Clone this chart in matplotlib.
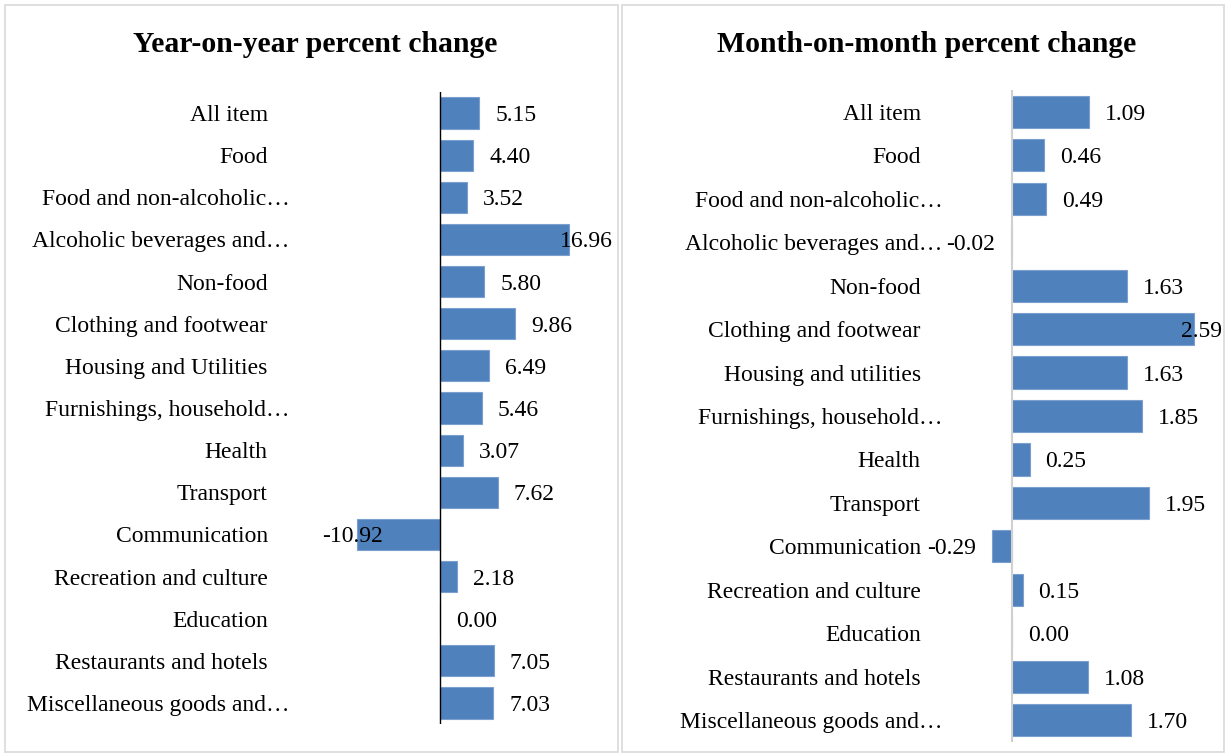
import matplotlib.pyplot as plt
from matplotlib.patches import Rectangle
from matplotlib.transforms import ScaledTranslation, blended_transform_factory

plt.rcParams['font.family'] = ['Liberation Serif', 'DejaVu Serif']

yoy_labels = ['All item', 'Food', 'Food and non-alcoholic\u2026', 'Alcoholic beverages and\u2026',
              'Non-food', 'Clothing and footwear', 'Housing and Utilities',
              'Furnishings, household\u2026', 'Health', 'Transport', 'Communication',
              'Recreation and culture', 'Education', 'Restaurants and hotels',
              'Miscellaneous goods and\u2026']
yoy_values = [5.15, 4.40, 3.52, 16.96, 5.80, 9.86, 6.49, 5.46, 3.07, 7.62, -10.92,
              2.18, 0.00, 7.05, 7.03]

mom_labels = ['All item', 'Food', 'Food and non-alcoholic\u2026', 'Alcoholic beverages and\u2026',
              'Non-food', 'Clothing and footwear', 'Housing and utilities',
              'Furnishings, household\u2026', 'Health', 'Transport', 'Communication',
              'Recreation and culture', 'Education', 'Restaurants and hotels',
              'Miscellaneous goods and\u2026']
mom_values = [1.09, 0.46, 0.49, -0.02, 1.63, 2.59, 1.63, 1.85, 0.25, 1.95, -0.29,
              0.15, 0.00, 1.08, 1.70]

BLUE = '#4f81bd'
GRID = '#d9d9d9'
W, H = 1226, 754

fig = plt.figure(figsize=(W / 100, H / 100), dpi=100)


def px_axes(x0, x1, y0, y1):
    # pixel box (top-down y) -> figure axes
    return fig.add_axes([x0 / W, (H - y1) / H, (x1 - x0) / W, (y1 - y0) / H])


def panel(ax, labels, values, xlim, pad, zero_color, zero_lw):
    pos = list(range(len(values)))
    ax.barh(pos, values, height=0.74, color=BLUE, edgecolor='#7ba0d0', linewidth=0.8, zorder=2)
    ax.axvline(0, color=zero_color, lw=zero_lw, zorder=3)
    ax.set_xlim(*xlim)
    ax.set_ylim(len(values) - 0.5, -0.5)
    ax.set_xticks([])
    ax.set_yticks(pos)
    ax.set_yticklabels(labels, fontsize=17)
    ax.tick_params(axis='y', length=0, pad=pad)
    for s in ax.spines.values():
        s.set_visible(False)
    ax.patch.set_alpha(0)
    # truncated labels sit a bit further right
    for t, lab in zip(ax.get_yticklabels(), labels):
        if lab.endswith('\u2026'):
            t.set_transform(t.get_transform() + ScaledTranslation(15.5 / 72, 0, fig.dpi_scale_trans))

    texts = []
    for i, v in zip(pos, values):
        if v >= 0:
            t = ax.annotate(f'{v:.2f}', (v, i), xytext=(11.5, 0), textcoords='offset points',
                            ha='left', va='center_baseline', fontsize=17, zorder=4)
        else:
            t = ax.annotate(f'{v:.2f}', (v, i), xytext=(-11.5, 0), textcoords='offset points',
                            ha='right', va='center_baseline', fontsize=17, zorder=4)
        texts.append((t, i))
    fig.canvas.draw()
    r = fig.canvas.get_renderer()
    box = ax.get_window_extent(r)
    tr = blended_transform_factory(ax.transAxes, ax.transData)
    for t, i in texts:
        bb = t.get_window_extent(r)
        if bb.x1 > box.x1 + 1:
            t.remove()
            ax.text(1, i, t.get_text(), transform=tr, ha='right', va='center_baseline',
                    fontsize=17, zorder=4)
        elif bb.x0 < box.x0 - 1:
            t.remove()
            ax.text(0, i, t.get_text(), transform=tr, ha='left', va='center_baseline',
                    fontsize=17, zorder=4)


# panel frames
fig.patches.append(Rectangle((5 / W, 2 / H), 613 / W, 747 / H, transform=fig.transFigure,
                             fill=False, edgecolor=GRID, lw=1.2))
fig.patches.append(Rectangle((622 / W, 2 / H), 602 / W, 747 / H, transform=fig.transFigure,
                             fill=False, edgecolor=GRID, lw=1.2))

ax1 = px_axes(322, 613, 92, 724)
panel(ax1, yoy_labels, yoy_values, (-15.53, 22.76), 39, 'black', 1.0)

ax2 = px_axes(925, 1222, 90, 742)
panel(ax2, mom_labels, mom_values, (-1.24, 2.99), 3, '#d0d0d0', 1.5)

fig.text(315 / W, 1 - 45 / H, 'Year-on-year percent change', ha='center', va='center',
         fontsize=21.4, fontweight='bold')
fig.text(927 / W, 1 - 45 / H, 'Month-on-month percent change', ha='center', va='center',
         fontsize=21.4, fontweight='bold')

fig.savefig('out.png', dpi=100)
